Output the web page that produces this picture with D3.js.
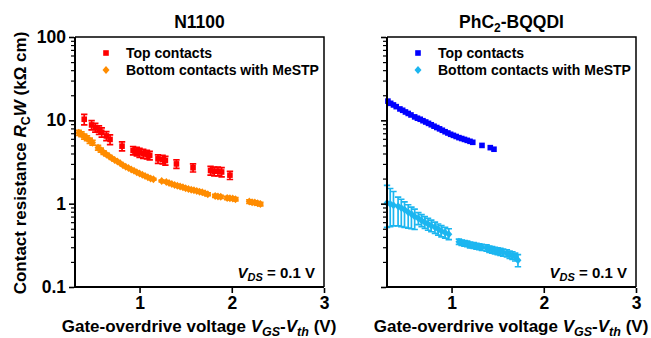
<!DOCTYPE html>
<html lang="en">
<head>
    <meta charset="UTF-8">
    <title>Contact resistance vs gate-overdrive voltage</title>
    <script src="https://d3js.org/d3.v7.min.js"></script>
    <style>
        body { margin: 0; background: #fff; }
        svg { font-family: "Liberation Sans", Arial, sans-serif; font-weight: bold; }
        .domain { display: none; }
    </style>
</head>
<body>
    <div id="chart"></div>

    <script>
        const width = 651;
        const height = 338;

        // N1100, top contacts (red squares)
        const vTopN = [0.40, 0.48, 0.52, 0.56, 0.59, 0.64, 0.68, 0.81, 0.93, 0.97, 1.00, 1.04, 1.08, 1.11, 1.20, 1.25, 1.28, 1.40, 1.58, 1.77, 1.81, 1.85, 1.89, 1.98];
        const rTopN = [10.3, 8.8, 8.2, 7.7, 7.2, 6.5, 5.9, 4.9, 4.35, 4.25, 4.1, 4.0, 3.9, 3.8, 3.45, 3.4, 3.3, 3.0, 2.7, 2.5, 2.45, 2.45, 2.4, 2.2];
        const eTopN = [1.5, 1.1, 1.0, 0.9, 0.9, 0.8, 0.8, 0.6, 0.5, 0.5, 0.5, 0.5, 0.45, 0.45, 0.4, 0.4, 0.4, 0.35, 0.3, 0.3, 0.3, 0.3, 0.3, 0.25];

        // N1100, bottom contacts with MeSTP (orange diamonds)
        const vBotN = [0.34, 0.37, 0.40, 0.43, 0.46, 0.49, 0.55, 0.58, 0.61, 0.64, 0.67, 0.70, 0.73, 0.76, 0.79, 0.82, 0.85, 0.88, 0.91, 0.94, 0.97, 1.00, 1.03, 1.06, 1.09, 1.12, 1.15,
                       1.24, 1.29, 1.32, 1.35, 1.38, 1.41, 1.44, 1.47, 1.50, 1.53, 1.56, 1.59, 1.62, 1.65, 1.68, 1.71, 1.74, 1.82, 1.85, 1.88, 1.95, 1.98, 2.01, 2.04, 2.19, 2.22, 2.25, 2.28, 2.31];
        const rBotN = [7.1, 6.8, 6.4, 6.1, 5.7, 5.4, 4.7, 4.4, 4.1, 3.9, 3.7, 3.5, 3.35, 3.2, 3.05, 2.9, 2.78, 2.67, 2.57, 2.48, 2.39, 2.3, 2.22, 2.15, 2.08, 2.01, 1.96,
                       1.87, 1.82, 1.77, 1.72, 1.68, 1.64, 1.61, 1.57, 1.53, 1.50, 1.47, 1.45, 1.42, 1.39, 1.37, 1.33, 1.30, 1.24, 1.22, 1.21, 1.17, 1.16, 1.15, 1.13, 1.06, 1.04, 1.03, 1.01, 0.99];
        const eBotN = [0.5, 0.45, 0.45, 0.4, 0.4, 0.35, 0.3, 0.25, 0.2, 0.15, 0.1, 0.1, 0.08, 0.08, 0.06, 0.05, 0.05, 0.05, 0.05, 0.05, 0.05, 0.05, 0.05, 0.05, 0.05, 0.05, 0.05,
                       0.05, 0.05, 0.05, 0.05, 0.05, 0.05, 0.05, 0.05, 0.05, 0.05, 0.05, 0.05, 0.05, 0.05, 0.05, 0.05, 0.05, 0.05, 0.05, 0.05, 0.05, 0.05, 0.05, 0.05, 0.05, 0.05, 0.05, 0.05, 0.05];

        // PhC2-BQQDI, top contacts (blue squares)
        const vTopP = [0.31, 0.34, 0.37, 0.40, 0.44, 0.47, 0.50, 0.53, 0.56, 0.60, 0.63, 0.66, 0.69, 0.72, 0.75, 0.78, 0.81, 0.84, 0.87, 0.90, 0.93, 0.96, 0.99,
                       1.02, 1.05, 1.08, 1.11, 1.14, 1.17, 1.20, 1.23, 1.33, 1.42, 1.46];
        const rTopP = [17.0, 16.0, 15.3, 14.6, 13.7, 13.2, 12.6, 12.1, 11.6, 11.0, 10.6, 10.3, 9.9, 9.55, 9.2, 8.85, 8.5, 8.2, 7.9, 7.6, 7.3, 7.05, 6.8,
                       6.6, 6.4, 6.2, 6.05, 5.9, 5.75, 5.6, 5.45, 5.0, 4.7, 4.5];

        // PhC2-BQQDI, bottom contacts with MeSTP (light blue diamonds)
        const vBotP = [0.30, 0.335, 0.37, 0.42, 0.455, 0.49, 0.53, 0.565, 0.60,
                       0.64, 0.675, 0.71, 0.745, 0.78, 0.82, 0.855, 0.89, 0.93, 0.97,
                       1.08, 1.11, 1.14, 1.17, 1.20, 1.24, 1.27, 1.30, 1.33, 1.38, 1.41, 1.44, 1.47, 1.50, 1.53, 1.56, 1.60, 1.63, 1.66, 1.69, 1.72];
        const rBotP = [1.02, 0.99, 0.96, 0.93, 0.89, 0.85, 0.79, 0.75, 0.70,
                       0.67, 0.63, 0.60, 0.57, 0.545, 0.52, 0.495, 0.47, 0.45, 0.43,
                       0.35, 0.34, 0.335, 0.33, 0.32, 0.315, 0.31, 0.305, 0.30, 0.295, 0.285, 0.28, 0.275, 0.27, 0.265, 0.26, 0.255, 0.245, 0.24, 0.23, 0.21];
        const eUpBotP = [0.64, 0.53, 0.44, 0.27, 0.24, 0.20, 0.18, 0.16, 0.16,
                         0.11, 0.11, 0.10, 0.095, 0.09, 0.08, 0.075, 0.075, 0.07, 0.07,
                         0.025, 0.025, 0.025, 0.025, 0.025, 0.025, 0.025, 0.025, 0.025, 0.025, 0.025, 0.025, 0.025, 0.025, 0.025, 0.025, 0.025, 0.025, 0.025, 0.025, 0.035];
        const eDnBotP = [0.50, 0.46, 0.42, 0.39, 0.36, 0.33, 0.28, 0.25, 0.21,
                         0.11, 0.10, 0.095, 0.09, 0.085, 0.08, 0.075, 0.07, 0.065, 0.06,
                         0.025, 0.025, 0.025, 0.025, 0.025, 0.025, 0.025, 0.025, 0.025, 0.025, 0.025, 0.025, 0.025, 0.025, 0.025, 0.025, 0.025, 0.025, 0.025, 0.025, 0.035];

        const xTicks = [1, 2, 3];
        const yMajor = [0.1, 1, 10, 100];
        const legendLabels = ["Top contacts", "Bottom contacts with MeSTP"];

        const svg = d3.select("#chart")
                      .append("svg")
                      .attr("width", width)
                      .attr("height", height);

        const yTop = 37, yBottom = 287;
        const y = d3.scaleLog().domain([0.1, 100]).range([yBottom, yTop]);

        const yMinor = [];
        for (let d = 0.1; d < 100; d *= 10) {
            for (let k = 2; k <= 9; k++) yMinor.push(+(d * k).toPrecision(3));
        }

        const panels = [
            { left: 75, title: "N1100", sub: null, labels: true,
              series: [
                  { v: vTopN, r: rTopN, up: eTopN, dn: eTopN, color: "#ff0000", shape: "square" },
                  { v: vBotN, r: rBotN, up: eBotN, dn: eBotN, color: "#ff8c00", shape: "diamond" }
              ] },
            { left: 387, title: "PhC", sub: "2", titleEnd: "-BQQDI", labels: false,
              series: [
                  { v: vTopP, r: rTopP, up: null, dn: null, color: "#0000ff", shape: "square" },
                  { v: vBotP, r: rBotP, up: eUpBotP, dn: eDnBotP, color: "#1cb6f0", shape: "diamond" }
              ] }
        ];

        function marker(g, shape, color, cx, cy) {
            if (shape === "square") {
                g.append("rect")
                 .attr("x", cx - 2.8).attr("y", cy - 2.8)
                 .attr("width", 5.6).attr("height", 5.6)
                 .attr("fill", color);
            } else {
                g.append("path")
                 .attr("d", `M${cx},${cy - 4}L${cx + 3.5},${cy}L${cx},${cy + 4}L${cx - 3.5},${cy}Z`)
                 .attr("fill", color);
            }
        }

        panels.forEach(p => {
            const x = d3.scaleLinear().domain([0.3, 3]).range([p.left, p.left + 249]);
            const g = svg.append("g");

            // data
            p.series.forEach(s => {
                const sg = g.append("g");
                if (s.up) {
                    s.v.forEach((v, i) => {
                        const cx = x(v);
                        const y1 = y(s.r[i] + s.up[i]);
                        const y2 = y(Math.max(s.r[i] - s.dn[i], 0.1));
                        sg.append("path")
                          .attr("d", `M${cx},${y1}V${y2}M${cx - 3.2},${y1}H${cx + 3.2}M${cx - 3.2},${y2}H${cx + 3.2}`)
                          .attr("stroke", s.color)
                          .attr("stroke-width", 1.7)
                          .attr("fill", "none");
                    });
                }
                s.v.forEach((v, i) => marker(sg, s.shape, s.color, x(v), y(s.r[i])));
            });

            // frame
            g.append("path")
             .attr("d", `M${p.left},${yTop}H${p.left + 249}V${yBottom}`)
             .attr("fill", "none").attr("stroke", "#000").attr("stroke-width", 1.5);
            g.append("path")
             .attr("d", `M${p.left},${yTop}V${yBottom}H${p.left + 249}`)
             .attr("fill", "none").attr("stroke", "#000").attr("stroke-width", 2);

            // y axis
            const yAxMaj = g.append("g")
             .attr("transform", `translate(${p.left - 1},0)`)
             .call(d3.axisLeft(y).tickValues(yMajor).tickSize(5).tickPadding(3)
                   .tickFormat(p.labels ? d3.format("~g") : () => ""));
            yAxMaj.selectAll("line").attr("stroke-width", 1.6);
            yAxMaj.selectAll("text").attr("font-size", 17.5).attr("fill", "#000")
                  .attr("font-family", "Liberation Sans, Arial, sans-serif");
            const yAxMin = g.append("g")
             .attr("transform", `translate(${p.left - 1},0)`)
             .call(d3.axisLeft(y).tickValues(yMinor).tickSize(3).tickFormat(""));
            yAxMin.selectAll("line").attr("stroke-width", 1.2);

            // x axis
            const xAx = g.append("g")
             .attr("transform", `translate(0,${yBottom + 1})`)
             .call(d3.axisBottom(x).tickValues(xTicks).tickSize(5).tickPadding(4).tickFormat(d3.format("d")));
            xAx.selectAll("line").attr("stroke-width", 1.6);
            xAx.selectAll("text").attr("font-size", 17.5).attr("fill", "#000")
               .attr("font-family", "Liberation Sans, Arial, sans-serif");

            // title
            const t = g.append("text")
             .attr("x", p.left + 124.5).attr("y", 28)
             .attr("text-anchor", "middle").attr("font-size", 17.5)
             .text(p.title);
            if (p.sub) {
                t.append("tspan").attr("font-size", 12).attr("dy", 4).text(p.sub);
                t.append("tspan").attr("dy", -4).text(p.titleEnd);
            }

            // legend
            p.series.forEach((s, i) => {
                const ly = 53 + i * 17;
                marker(g, s.shape, s.color, p.left + 31, ly);
                g.append("text")
                 .attr("x", p.left + 51).attr("y", ly + 5)
                 .attr("font-size", 14)
                 .text(legendLabels[i]);
            });

            // VDS note
            const n = g.append("text")
             .attr("x", p.left + 240).attr("y", 278)
             .attr("text-anchor", "end").attr("font-size", 15);
            n.append("tspan").attr("font-style", "italic").text("V");
            n.append("tspan").attr("font-style", "italic").attr("font-size", 11).attr("dy", 3).text("DS");
            n.append("tspan").attr("dy", -3).text(" = 0.1 V");

            // x label
            const xl = g.append("text")
             .attr("x", p.left + 124).attr("y", 332)
             .attr("text-anchor", "middle").attr("font-size", 17);
            xl.append("tspan").text("Gate-overdrive voltage ");
            xl.append("tspan").attr("font-style", "italic").text("V");
            xl.append("tspan").attr("font-style", "italic").attr("font-size", 12.5).attr("dy", 4).text("GS");
            xl.append("tspan").attr("dy", -4).text("-");
            xl.append("tspan").attr("font-style", "italic").text("V");
            xl.append("tspan").attr("font-style", "italic").attr("font-size", 12.5).attr("dy", 4).text("th");
            xl.append("tspan").attr("dy", -4).text(" (V)");
        });

        // y label
        const yl = svg.append("text")
         .attr("transform", "translate(26,163) rotate(-90)")
         .attr("text-anchor", "middle").attr("font-size", 17);
        yl.append("tspan").text("Contact resistance ");
        yl.append("tspan").attr("font-style", "italic").text("R");
        yl.append("tspan").attr("font-size", 12.5).attr("dy", 4).text("C");
        yl.append("tspan").attr("dy", -4).attr("font-style", "italic").text("W");
        yl.append("tspan").text(" (k\u03A9 cm)");
    </script>
</body>
</html>
